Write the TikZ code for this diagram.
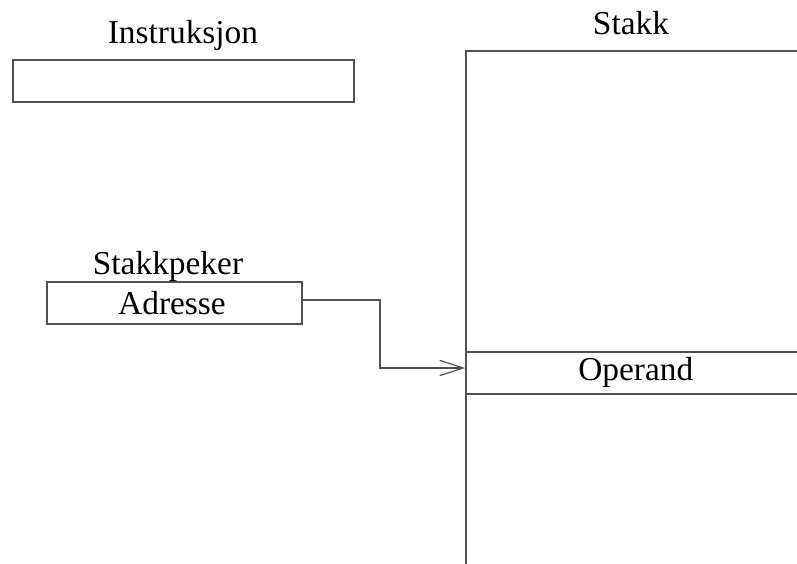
\documentclass[tikz,border=0pt]{standalone}
\usepackage{fontspec}
\setmainfont{Liberation Serif}
\usepackage{xcolor}
\usepackage{tikz}
\usetikzlibrary{arrows.meta,positioning}
\definecolor{linex}{HTML}{505050}
\tikzset{
  ar/.style={-{Straight Barb[length=7mm,width=4.6mm]},line width=1pt,linex},
  box/.style={draw=linex,line width=1.3pt,inner sep=0pt,align=center},
  lbl/.style={font=\fontsize{28.5}{32}\selectfont,inner sep=0pt}
}

\begin{document}
\begin{tikzpicture}[x=0.03cm,y=-0.03cm]
\useasboundingbox (0,0) rectangle (797,563);
\clip (0,0) rectangle (797,563);
% instruksjon
\node[box,minimum width=10.23cm,minimum height=1.26cm] (instr) at (183.5,81) {};
\node[lbl,anchor=base] (instrlbl) at (183,44) {Instruksjon};
% stakk
\node[box,anchor=north west,minimum width=10.2cm,minimum height=16.5cm] (stack) at (465,50) {};
\node[lbl,anchor=base] (stacklbl) at (631,34) {Stakk};
\node[box,anchor=north west,minimum width=10.2cm,minimum height=1.26cm,font=\fontsize{28.5}{32}\selectfont] (op) at (465,351) {Operand};
% stakkpeker
\node[box,minimum width=7.65cm,minimum height=1.26cm] (adr) at (174.5,303) {};
\node[lbl] (adrtxt) at (172,303) {Adresse};
\node[lbl,anchor=base] (sptrlbl) at (168,274) {Stakkpeker};
\draw[ar] (adr.east) ++(0,-3) -| (380,368) -- (op.west |- 0,368);
\end{tikzpicture}
\end{document}
